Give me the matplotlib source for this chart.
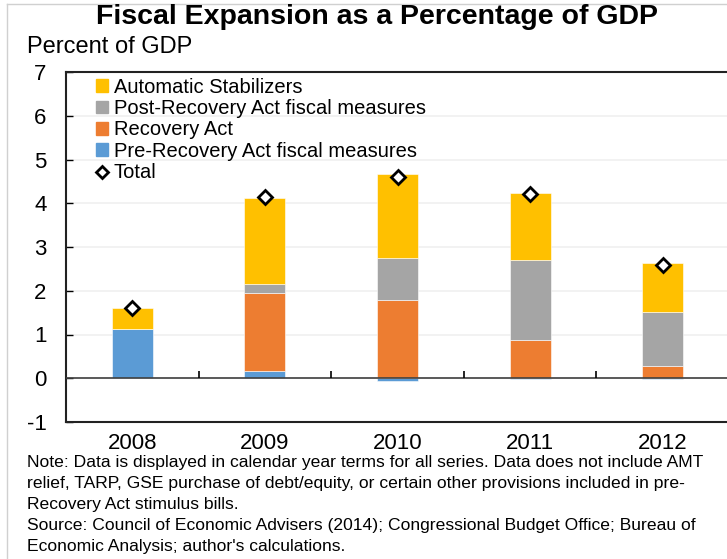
import numpy as np
import matplotlib.pyplot as plt
from matplotlib.lines import Line2D
from matplotlib.patches import Patch

plt.rcParams['font.family'] = ['Liberation Sans', 'DejaVu Sans']
plt.rcParams['axes.unicode_minus'] = False

years = ['2008', '2009', '2010', '2011', '2012']
pre_recovery = [1.12, 0.16, -0.06, -0.02, -0.02]
recovery_act = [0.0, 1.80, 1.80, 0.88, 0.27]
post_recovery = [0.0, 0.19, 0.96, 1.82, 1.25]
auto_stab = [0.48, 1.97, 1.92, 1.54, 1.11]
total = [1.60, 4.14, 4.60, 4.21, 2.60]

c_auto = '#FFC000'
c_post = '#A5A5A5'
c_rec = '#ED7D31'
c_pre = '#5B9BD5'

fig = plt.figure(figsize=(7.27, 5.59), dpi=100)
ax = fig.add_axes([66 / 727, 1 - 422 / 559, 663 / 727, 350 / 559])

x = np.arange(len(years))
w = 0.31
pre = np.array(pre_recovery)
rec = np.array(recovery_act)
post = np.array(post_recovery)
auto = np.array(auto_stab)
pos_pre = np.clip(pre, 0, None)

kw = dict(width=w, edgecolor='white', linewidth=0.4, zorder=3)
ax.bar(x, pre, color=c_pre, **kw)
ax.bar(x, rec, bottom=pos_pre, color=c_rec, **kw)
ax.bar(x, post, bottom=pos_pre + rec, color=c_post, **kw)
ax.bar(x, auto, bottom=pos_pre + rec + post, color=c_auto, **kw)
ax.plot(x, total, linestyle='none', marker='D', markersize=7,
        markerfacecolor='white', markeredgecolor='black', markeredgewidth=2,
        zorder=5)

ax.set_xlim(-0.5, 4.5)
ax.set_ylim(-1, 7)
ax.set_yticks(range(-1, 8))
ax.set_xticks(x)
ax.set_xticklabels(years)
ax.tick_params(axis='y', direction='in', length=5, width=1, labelsize=16, pad=14)
ax.tick_params(axis='x', length=0, labelsize=16, pad=8)
ax.grid(axis='y', color='#f0f0f0', linewidth=1.2, zorder=0)
ax.set_axisbelow(True)

ax.axhline(0, color='#404040', linewidth=1.2, zorder=4)
ax.vlines(np.arange(0.5, 4), 0, 0.16, color='black', linewidth=1.2, zorder=4)

for s in ax.spines.values():
    s.set_color('#222222')
    s.set_linewidth(1.5)

handles = [Patch(color=c_auto), Patch(color=c_post), Patch(color=c_rec), Patch(color=c_pre),
           Line2D([], [], linestyle='none', marker='D', markersize=6,
                  markerfacecolor='white', markeredgecolor='black', markeredgewidth=2)]
labels = ['Automatic Stabilizers', 'Post-Recovery Act fiscal measures', 'Recovery Act',
          'Pre-Recovery Act fiscal measures', 'Total']
leg = ax.legend(handles, labels, loc='upper left', bbox_to_anchor=(0.036, 1.0),
                frameon=False, fontsize=14.5, handlelength=0.6, handleheight=0.6,
                handletextpad=0.3, labelspacing=0.12, borderaxespad=-0.12)

fig.text(377 / 727, 1 - 17 / 559, 'Fiscal Expansion as a Percentage of GDP',
         ha='center', va='center', fontsize=20.5, fontweight='bold')
fig.text(27 / 727, 1 - 47 / 559, 'Percent of GDP', ha='left', va='center', fontsize=17)

note = ("Note: Data is displayed in calendar year terms for all series. Data does not include AMT\n"
        "relief, TARP, GSE purchase of debt/equity, or certain other provisions included in pre-\n"
        "Recovery Act stimulus bills.\n"
        "Source: Council of Economic Advisers (2014); Congressional Budget Office; Bureau of\n"
        "Economic Analysis; author's calculations.")
fig.text(27 / 727, 1 - 455 / 559, note, ha='left', va='top', fontsize=12.6, linespacing=1.5)

fig.add_artist(Line2D([7 / 727, 7 / 727], [0, 1 - 4 / 559], color='#d0d0d0', linewidth=1))
fig.add_artist(Line2D([7 / 727, 1], [1 - 4 / 559, 1 - 4 / 559], color='#d0d0d0', linewidth=1))

fig.savefig('out.png', dpi=100)
